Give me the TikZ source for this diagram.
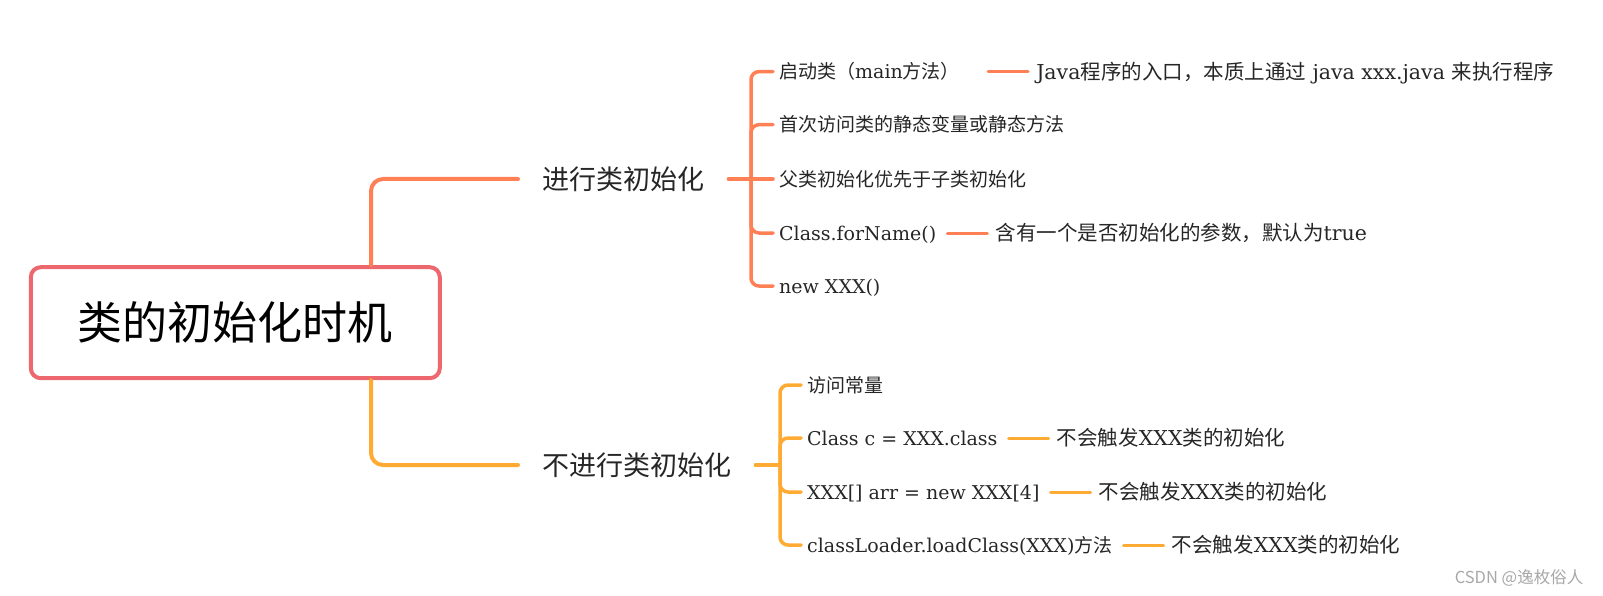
\documentclass[tikz,border=0pt]{standalone}
\usepackage{fontspec}
\setmainfont{DejaVu Serif}
\newfontfamily\latinfont{DejaVu Serif}
\newfontfamily\cjkfont{Noto Sans CJK SC}
\usetikzlibrary{positioning}
\definecolor{rootc}{RGB}{236,104,110}
\definecolor{topc}{RGB}{255,128,85}
\definecolor{botc}{RGB}{255,170,51}
\definecolor{inkc}{RGB}{38,38,38}
\definecolor{markc}{RGB}{168,168,168}

% ideographs get the CJK face, the rest stays serif
\XeTeXinterchartokenstate=1
\newXeTeXintercharclass\cjkclass
\count255="4E00
\loop
	\XeTeXcharclass\count255=\cjkclass
	\ifnum\count255<"9FFF \advance\count255 by 1
\repeat
\XeTeXcharclass"FF08=\cjkclass
\XeTeXcharclass"FF09=\cjkclass
\XeTeXcharclass"FF0C=\cjkclass
\XeTeXinterchartoks 0 \cjkclass={\cjkfont}
\XeTeXinterchartoks 4095 \cjkclass={\cjkfont}
\XeTeXinterchartoks \cjkclass 0={\latinfont}
\XeTeXinterchartoks \cjkclass 4095={\latinfont}

\begin{document}
\begin{tikzpicture}[x=1pt,y=-1pt,
		root/.style={draw=rootc, line width=4pt, rounded corners=10pt, minimum width=409pt, minimum height=111pt, text=black, font=\cjkfont\fontsize{45}{54}\selectfont},
		branch/.style={anchor=west, inner xsep=24pt, text=inkc, font=\cjkfont\fontsize{27}{32}\selectfont},
		leaf/.style={anchor=west, inner xsep=6pt, text height=16.7pt, text depth=2.3pt, text=inkc, font=\fontsize{19}{23}\selectfont},
		note/.style={leaf, right=47pt of #1, text height=18pt, text depth=2.5pt, font=\fontsize{20.5}{25}\selectfont},
		toplink/.style={draw=topc, line width=3.5pt, line cap=round},
		botlink/.style={draw=botc, line width=3.5pt, line cap=round},
		notelink/.style={line width=3pt, shorten <=5pt, shorten >=2pt}]
		\useasboundingbox (0,0) rectangle (1603,596);
		
		%%%%% ROOT %%%%%
		\node[root] (root) at (235.3,322.7) {类的初始化时机};
		\node[branch] (b1) at (518,179) {进行类初始化};
		\node[branch] (b2) at (518,465) {不进行类初始化};
		\draw[toplink, line width=4pt, rounded corners=12pt] ([xshift=135.7pt]root.north) |- (b1.west);
		\draw[botlink, line width=4pt, rounded corners=12pt] ([xshift=135.7pt]root.south) |- (b2.west);
		
		%%%%% TOP %%%%%
		\node[leaf] (t1) at (773,71.6) {启动类（main方法）};
		\node[leaf] (t2) at (773,124.7) {首次访问类的静态变量或静态方法};
		\node[leaf] (t3) at (773,179) {父类初始化优先于子类初始化};
		\node[leaf] (t4) at (773,233) {Class.forName()};
		\node[leaf] (t5) at (773,286) {new XXX()};
		\node[note=t1, xshift=17pt] (n1) {Java程序的入口，本质上通过 java xxx.java 来执行程序};
		\node[note=t4] (n4) {含有一个是否初始化的参数，默认为true};
		
		\coordinate (tj) at (751,179);
		\draw[toplink] (b1.east) -- (t3.west);
		\foreach \t in {t1,t2,t4,t5}
			\draw[toplink, rounded corners=8pt] (tj) |- (\t.west);
		\draw[toplink, notelink, shorten <=22pt] (t1.east) -- (n1.west);
		\draw[toplink, notelink] (t4.east) -- (n4.west);
		
		%%%%% BOTTOM %%%%%
		\node[leaf] (u1) at (801,385) {访问常量};
		\node[leaf] (u2) at (801,438) {Class c = XXX.class};
		\node[leaf] (u3) at (801,492) {XXX[] arr = new XXX[4]};
		\node[leaf] (u4) at (801,545) {classLoader.loadClass(XXX)方法};
		\node[note=u2] (m2) {不会触发XXX类的初始化};
		\node[note=u3] (m3) {不会触发XXX类的初始化};
		\node[note=u4] (m4) {不会触发XXX类的初始化};
		
		\coordinate (bj) at (780,465);
		\draw[botlink] (b2.east) -- (bj);
		\foreach \u in {u1,u2,u3,u4}
			\draw[botlink, rounded corners=8pt] (bj) |- (\u.west);
		\foreach \u/\m in {u2/m2,u3/m3,u4/m4}
			\draw[botlink, notelink] (\u.east) -- (\m.west);
		
		\node[text=markc, font=\cjkfont\fontsize{16.5}{20}\selectfont] (mark) at (1519,578) {CSDN @逸枚俗人};
	\end{tikzpicture}
\end{document}
